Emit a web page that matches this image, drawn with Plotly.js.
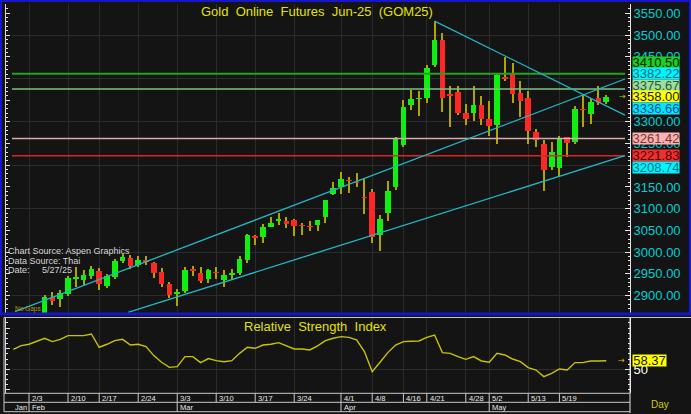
<!DOCTYPE html>
<html><head><meta charset="utf-8">
<script src="https://cdn.plot.ly/plotly-3.0.1.min.js"></script>
<style>html,body{margin:0;padding:0;background:#141414;} #chart{width:691px;height:414px;}</style>
</head><body><div id="chart"></div>
<script>
// ---------- DATA ----------
const dates = ['1/30','1/31','2/3','2/4','2/5','2/6','2/7','2/10','2/11','2/13','2/14','2/17','2/18','2/19','2/20','2/21','2/24','2/25','2/26','2/27','2/28','3/3','3/4','3/5','3/6','3/7','3/10','3/11','3/12','3/13','3/14','3/17','3/18','3/19','3/20','3/21','3/24','3/25','3/26','3/27','3/28','3/31','4/1','4/2','4/3','4/4','4/8','4/9','4/10','4/11','4/16','4/17','4/18','4/21','4/22','4/23','4/24','4/25','4/28','4/29','4/30','5/2','5/6','5/7','5/8','5/9','5/13','5/14','5/15','5/16','5/19','5/20','5/21','5/22','5/23','5/26','5/27'];
const open = [null,null,null,null,2858,2897,2891,2903,2937,2935,2944,2957,2922,2943,2980,2987,2970,2983,2974,2955,2927,2903,2910,2960,2952,2939,2955,2935,2948,2951,2982,3036,3034,3058,3072,3071,3073,3063,3060,3062,3082,3135,3151,3166,3162,3126,3139,3039,3091,3149,3247,3339,3352,3356,3430,3488,3363,3369,3321,3320,3339,3306,3293,3404,3413,3367,3356,3277,3250,3197,3193,3264,3254,3330,3317,3356,3345];
const high = [null,null,null,null,2902,2909,2912,2945,2966,2958,2968,2964,2950,2985,2996,2993,2990,2990,2978,2963,2932,2915,2965,2968,2966,2962,2966,2958,2962,2990,3042,3040,3065,3081,3091,3080,3076,3066,3072,3074,3120,3162,3184,3174,3183,3168,3145,3085,3164,3264,3350,3373,3371,3431,3532,3504,3382,3383,3341,3382,3360,3349,3410,3449,3435,3395,3371,3283,3258,3254,3267,3266,3337,3362,3354,3382,3362];
const low = [null,null,null,null,2852,2878,2874,2898,2920,2925,2938,2913,2917,2938,2975,2962,2965,2970,2940,2920,2894,2876,2905,2945,2928,2930,2939,2920,2939,2948,2976,3016,3022,3057,3062,3055,3036,3039,3049,3049,3068,3131,3133,3137,3149,3088,3020,3003,3072,3144,3243,3327,3313,3344,3427,3323,3289,3316,3293,3303,3293,3267,3248,3395,3343,3312,3250,3243,3141,3188,3174,3220,3249,3289,3295,3339,3340];
const close = [null,null,null,null,2897,2888,2906,2940,2942,2947,2960,2926,2944,2980,2989,2969,2982,2978,2951,2926,2901,2908,2959,2957,2934,2958,2952,2947,2952,2985,3039,3033,3057,3066,3076,3064,3060,3060,3057,3073,3119,3148,3168,3164,3159,3124,3034,3077,3141,3260,3335,3353,3356,3425,3488,3356,3359,3321,3306,3339,3306,3291,3408,3399,3363,3348,3279,3258,3188,3231,3260,3252,3329,3327,3346,3344,3358];
const rsi = [69.4,73,74.3,76.9,80.1,76.9,79.1,82.7,82.7,82.7,84.3,71.4,74.3,77.8,79.1,73.6,74.3,72,63.3,56.8,51.9,52.6,62.3,62.3,56.5,60.4,58.4,57.4,58.4,65.5,71.4,70.4,73.6,74.3,75.9,72.7,69.7,69.7,68.8,72.7,77.8,80.1,81.7,81,78.5,67.2,47.7,56.8,66.2,73.6,76.9,77.2,77.5,81,83.3,66.2,65.5,62.3,59.7,62.3,58.1,56.8,65.5,63.9,60,57.4,51.6,49.3,42.9,46.1,50.3,49.3,56.5,56.5,58.1,58.1,58.37];
const weekTicks = ['2/3','2/10','2/17','2/24','3/3','3/10','3/17','3/24','4/1','4/8','4/16','4/21','4/28','5/2','5/13','5/19'];
const monthLabels = ['Feb','Mar','Apr','May'];
const monthStarts = ['2/3','3/3','4/1','5/2'];
const priceTicks = [2900,2950,3000,3050,3100,3150,3250,3300,3450,3500,3550]; // labels not hidden by value boxes
const levelValues = [3410.50, 3375.67, 3261.42, 3221.83];
// trend lines: start point (bar index offset, price) and value at last bar
const trendStartIdx = [0.2, 14.7, 54];
const trendStartPrice = [2862.8, 2861.4, 3532];
const trendLastValue = [3382.22, 3208.74, 3336.66];

// ---------- STYLE / LAYOUT ----------
const W = 691, H = 414;
const px = v => v / W, py = v => 1 - v / H;
const idx = dates.map((d, i) => i);
const di = d => dates.indexOf(d);
const lastIdx = dates.length - 1;
const xr = [-0.18, 79.05];
const FONT = 'Liberation Sans, Arial, sans-serif';
const NARROW = 'Liberation Sans Narrow, Arial Narrow, Liberation Sans, sans-serif';

const bodyBase = open.map((o, i) => o == null ? null : Math.min(o, close[i]));
const bodySize = open.map((o, i) => o == null ? null : Math.abs(close[i] - o));
const bodyColor = open.map((o, i) => (o != null && close[i] >= o) ? '#10f010' : '#ff2626');
const wickSize = high.map((h, i) => h == null ? null : h - low[i]);

const traces = [
  {type:'bar', x: idx, base: low, y: wickSize, width: 0.24, marker:{color:'#b0a400', line:{width:0}}, xaxis:'x', yaxis:'y', hoverinfo:'skip'},
  {type:'bar', x: idx, base: bodyBase, y: bodySize, width: 0.74, marker:{color: bodyColor, line:{width:0}}, xaxis:'x', yaxis:'y', hoverinfo:'skip'},
  {type:'scatter', mode:'lines', x: idx, y: rsi, line:{color:'#c8c400', width:1.4}, xaxis:'x2', yaxis:'y2', hoverinfo:'skip'},
  {type:'scatter', mode:'none', x:[0], y:[3000], xaxis:'x', yaxis:'y3', hoverinfo:'skip'},
  {type:'scatter', mode:'none', x:[0], y:[3000], xaxis:'x', yaxis:'y4', hoverinfo:'skip'},
  {type:'scatter', mode:'none', x:[0], y:[50], xaxis:'x2', yaxis:'y5', hoverinfo:'skip'}
];

const weekIdx = weekTicks.map(di);
const mainRange = [2859.8, 3571.4];
const rsiRange = [27, 99.8];

const layout = {
  width: W, height: H, autosize: false,
  margin: {l:0, r:0, t:0, b:0, pad:0},
  paper_bgcolor: '#141414', plot_bgcolor: '#141414',
  showlegend: false, barmode: 'overlay', bargap: 0,
  xaxis: {domain:[px(12), px(630)], range: xr, anchor:'y', tickmode:'array', tickvals: weekIdx,
          showticklabels:false, ticks:'', showgrid:true, gridcolor:'#2b2b2b', gridwidth:1, zeroline:false, showline:false, fixedrange:true},
  xaxis2: {domain:[px(12), px(630)], range: xr, anchor:'y2', tickmode:'array', tickvals: weekIdx,
          showticklabels:false, ticks:'', showgrid:true, gridcolor:'#2b2b2b', zeroline:false, showline:false, fixedrange:true},
  yaxis: {domain:[py(313), py(4)], range: mainRange, side:'right', anchor:'x', tickmode:'array', tickvals: priceTicks,
          ticktext: priceTicks.map(v => v.toFixed(2)),
          ticks:'inside', ticklen:5, tickcolor:'#e6e6e6', tickwidth:1,
          tickfont:{family:FONT, size:13, color:'#00d0d0'}, showgrid:false, zeroline:false,
          showline:true, linecolor:'#e6e6e6', linewidth:1,
          minor:{tickmode:'linear', dtick:10, tick0:2900, ticks:'inside', ticklen:2.5, tickcolor:'#e6e6e6', showgrid:false}},
  yaxis3: {overlaying:'y', anchor:'free', position: px(4.5), side:'left', range: mainRange, tick0:2900, dtick:50,
          ticks:'inside', ticklen:4, tickcolor:'#e0e0e0', showticklabels:false, showgrid:false, zeroline:false,
          showline:true, linecolor:'#d8d8d8', linewidth:1,
          minor:{dtick:10, tick0:2900, ticks:'inside', ticklen:2.5, tickcolor:'#e0e0e0', showgrid:false}},
  yaxis4: {overlaying:'y', anchor:'x', side:'right', range: mainRange, tick0:2900, dtick:100, ticks:'',
          showticklabels:false, showgrid:true, gridcolor:'#2b2b2b', zeroline:false, showline:false},
  yaxis2: {domain:[py(393), py(318)], range: rsiRange, side:'right', anchor:'x2', tickmode:'array', tickvals:[50], ticktext:['50'],
          ticks:'inside', ticklen:5, tickcolor:'#e6e6e6', tickfont:{family:FONT, size:13, color:'#ffffff'},
          showgrid:true, gridcolor:'#2f2f2f', zeroline:false, showline:true, linecolor:'#e6e6e6', linewidth:1,
          minor:{tickmode:'linear', dtick:5, tick0:0, ticks:'inside', ticklen:2.5, tickcolor:'#e6e6e6', showgrid:false}},
  yaxis5: {overlaying:'y2', anchor:'free', position: px(4.5), side:'left', range: rsiRange, tick0:10, dtick:20,
          ticks:'inside', ticklen:4, tickcolor:'#e0e0e0', showticklabels:false, showgrid:false, zeroline:false,
          showline:true, linecolor:'#d8d8d8', linewidth:1,
          minor:{dtick:5, tick0:0, ticks:'inside', ticklen:2.5, tickcolor:'#e0e0e0', showgrid:false}},
  shapes: [], annotations: []
};

// horizontal level lines
const levelColors = ['#1fa41f', '#7fc07f', '#dca8a8', '#e02424'];
const levelWidths = [2, 1.5, 1.5, 1.5];
levelValues.forEach((v, i) => layout.shapes.push({type:'line', xref:'x domain', x0:0, x1:0.992, yref:'y', y0:v, y1:v,
  line:{color: levelColors[i], width: levelWidths[i]}}));

// trend lines (extend to right end)
const trendEnd = 78.4;
trendStartIdx.forEach((x0, i) => {
  const y0 = trendStartPrice[i];
  const slope = (trendLastValue[i] - y0) / (lastIdx - x0);
  layout.shapes.push({type:'line', xref:'x', yref:'y', x0: x0, y0: y0, x1: trendEnd, y1: y0 + slope * (trendEnd - x0),
    line:{color:'#22b6c6', width:1.3}});
});

// frames
const blue = '#1616d0', gray = '#c8c8c8';
layout.shapes.push(
  {type:'rect', xref:'paper', yref:'paper', x0:px(1), x1:px(690), y0:py(314), y1:py(1), line:{color:blue, width:2}, layer:'above'},
  {type:'line', xref:'paper', yref:'paper', x0:0, x1:1, y0:py(314), y1:py(314), line:{color:blue, width:3}},
  {type:'line', xref:'paper', yref:'paper', x0:px(4), x1:1, y0:py(317.5), y1:py(317.5), line:{color:gray, width:1}},
  {type:'line', xref:'paper', yref:'paper', x0:px(4), x1:px(4), y0:py(317.5), y1:py(412), line:{color:gray, width:1}},
  {type:'line', xref:'paper', yref:'paper', x0:px(630), x1:px(630), y0:py(317.5), y1:py(413), line:{color:'#e6e6e6', width:1}},
  {type:'line', xref:'paper', yref:'paper', x0:px(4), x1:px(630), y0:py(393.3), y1:py(393.3), line:{color:gray, width:1}},
  {type:'line', xref:'paper', yref:'paper', x0:px(4), x1:px(630), y0:py(402.3), y1:py(402.3), line:{color:gray, width:1}},
  {type:'line', xref:'paper', yref:'paper', x0:px(4), x1:px(630), y0:py(411.7), y1:py(411.7), line:{color:gray, width:1}}
);
// week separators and labels
weekTicks.forEach(t => {
  const x = di(t);
  layout.shapes.push({type:'line', xref:'x2', yref:'paper', x0:x, x1:x, y0:py(393.3), y1:py(402.3), line:{color:gray, width:1}});
  layout.annotations.push({xref:'x2', yref:'paper', x:x, y:py(398), xanchor:'left', yanchor:'middle', xshift:1,
    text:t, showarrow:false, font:{family:NARROW, size:7.5, color:'#e8e8e8'}});
});
monthStarts.forEach((t, i) => {
  const x = di(t);
  layout.shapes.push({type:'line', xref:'x2', yref:'paper', x0:x, x1:x, y0:py(402.3), y1:py(411.7), line:{color:gray, width:1}});
  layout.annotations.push({xref:'x2', yref:'paper', x:x, y:py(407), xanchor:'left', yanchor:'middle', xshift:1,
    text:monthLabels[i], showarrow:false, font:{family:NARROW, size:7.5, color:'#e8e8e8'}});
});
layout.annotations.push({xref:'paper', yref:'paper', x:px(13), y:py(407), xanchor:'left', yanchor:'middle',
  text:'Jan', showarrow:false, font:{family:NARROW, size:7.5, color:'#e8e8e8'}});

// right-side value labels (stacked around the last price)
const lastPrice = close[lastIdx];
const items = [
  {v: levelValues[0], bg:'#22cc22', fg:'#002a00'},
  {v: trendLastValue[0], bg:'#00f4ff', fg:'#00707e'},
  {v: levelValues[1], bg:'#9ede9e', fg:'#2d5a2d'},
  {v: lastPrice, bg:'#ffff00', fg:'#1a1a00', last:true},
  {v: trendLastValue[2], bg:'#00eaff', fg:'#0a4a90'},
  {v: levelValues[2], bg:'#f4b4b4', fg:'#8a3030'},
  {v: levelValues[3], bg:'#ee3030', fg:'#5a0000'},
  {v: trendLastValue[1], bg:'#00f4ff', fg:'#00707e'}
];
const gap = 26.5;
const above = items.filter(o => o.v > lastPrice).sort((a, b) => a.v - b.v);
const below = items.filter(o => o.v < lastPrice).sort((a, b) => b.v - a.v);
items.find(o => o.last).pos = lastPrice;
let prev = lastPrice;
above.forEach(o => { o.pos = Math.max(o.v, prev + gap); prev = o.pos; });
prev = lastPrice;
below.forEach(o => { o.pos = Math.min(o.v, prev - gap); prev = o.pos; });
items.forEach(o => layout.annotations.push({xref:'paper', yref:'y', x:px(632), y:o.pos, xanchor:'left', yanchor:'middle',
  text:o.v.toFixed(2), showarrow:false, bgcolor:o.bg, borderpad:0, width:46, height:11,
  font:{family:FONT, size:13, color:o.fg}}));

// RSI last value label
const lastRsi = rsi[lastIdx];
layout.annotations.push({xref:'paper', yref:'y2', x:px(632), y:lastRsi, xanchor:'left', yanchor:'middle',
  text:lastRsi.toFixed(2), showarrow:false, bgcolor:'#ffff00', borderpad:0, width:33, height:11,
  font:{family:FONT, size:13, color:'#1a1a00'}});
// small arrows pointing to the last values
layout.annotations.push({xref:'x', yref:'y', x:78.15, y:lastPrice, text:'\u2192', showarrow:false,
  font:{family:'DejaVu Sans', size:8, color:'#e0c000'}});
layout.annotations.push({xref:'x2', yref:'y2', x:77.98, y:lastRsi, text:'\u2192', showarrow:false,
  font:{family:'DejaVu Sans', size:8, color:'#e0c000'}});

// titles and notes
layout.annotations.push(
  {xref:'paper', yref:'paper', x:px(317), y:py(11), xanchor:'center', yanchor:'middle', showarrow:false,
   text:'Gold\u00a0 Online\u00a0 Futures\u00a0 Jun-25\u00a0 (GOM25)', font:{family:FONT, size:13, color:'#e2e200'}},
  {xref:'paper', yref:'paper', x:px(315.5), y:py(326), xanchor:'center', yanchor:'middle', showarrow:false,
   text:'Relative\u00a0 Strength\u00a0 Index', font:{family:FONT, size:13, color:'#e2e200'}},
  {xref:'paper', yref:'paper', x:px(6), y:py(251), xanchor:'left', yanchor:'middle', showarrow:false,
   text:'Chart Source: Aspen Graphics', font:{family:FONT, size:9, color:'#d4d4d4'}},
  {xref:'paper', yref:'paper', x:px(6), y:py(260.5), xanchor:'left', yanchor:'middle', showarrow:false,
   text:'Data Source: Thai', font:{family:FONT, size:9, color:'#d4d4d4'}},
  {xref:'paper', yref:'paper', x:px(6), y:py(270), xanchor:'left', yanchor:'middle', showarrow:false,
   text:'Date:\u00a0\u00a0\u00a0\u00a0 5/27/25', font:{family:FONT, size:9, color:'#d4d4d4'}},
  {xref:'paper', yref:'paper', x:px(13), y:py(309), xanchor:'left', yanchor:'middle', showarrow:false,
   text:'No Gaps', font:{family:NARROW, size:6.5, color:'#a8a000'}},
  {xref:'paper', yref:'paper', x:px(660), y:py(404), xanchor:'center', yanchor:'middle', showarrow:false,
   text:'Day', font:{family:FONT, size:10, color:'#d0cc00'}}
);

Plotly.newPlot('chart', traces, layout, {displayModeBar:false, staticPlot:true});
</script></body></html>
